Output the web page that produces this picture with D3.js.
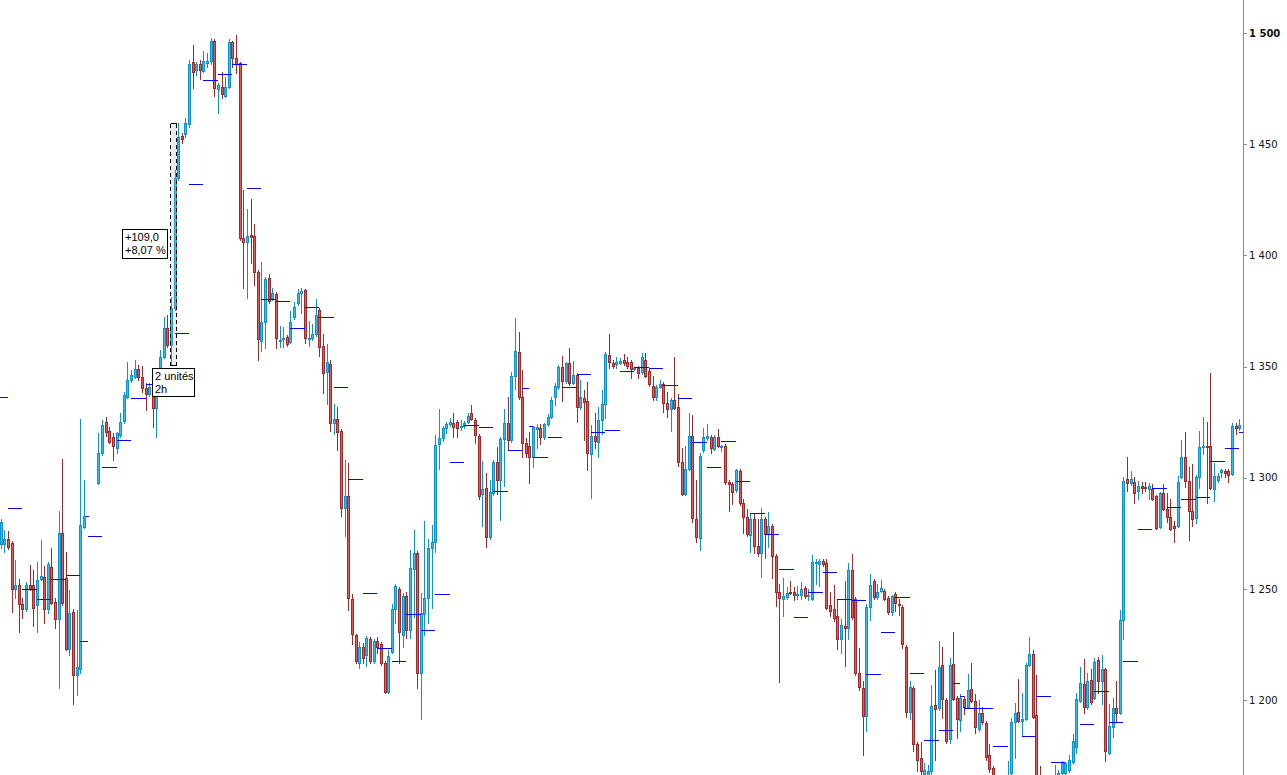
<!DOCTYPE html>
<html><head><meta charset="utf-8">
<script src="https://cdn.jsdelivr.net/npm/d3@7"></script>
<style>html,body{margin:0;padding:0;background:#fff;overflow:hidden}svg{display:block}</style>
</head><body>
<svg id="c" width="1287" height="775"></svg>
<script>
// ---- Hourly candles (price), null = no bar ----
const open = [
1270.1,1270.1,1272.3,1270.5,1249.8,1251.6,1243.1,1240.8,1251.6,1251.6,
1242.6,1254.3,1255.2,1240.8,1259.7,1244.0,1236.3,1275.0,1254.8,1222.8,
1239.5,1211.1,1213.8,1277.7,null,null,null,1297.5,1311.0,1325.0,
1320.9,1318.2,1313.3,1319.1,1325.4,1336.2,1343.9,1345.2,1348.8,1345.2,
1340.3,1337.6,1338.5,1331.3,1341.6,1354.2,1367.3,1359.6,1376.3,1434.8,
1453.7,1454.6,1459.1,1487.0,1483.4,1486.1,1482.9,1486.5,1487.4,1496.4,
1474.8,1475.7,1471.7,1475.7,1496.0,1488.8,1486.5,1407.8,1406.0,1409.1,
1408.7,1392.5,1361.4,1370.0,1389.8,1380.8,1382.6,1361.4,1362.3,1363.2,
1361.0,1372.2,1378.5,1383.0,1384.4,1362.3,1362.8,1364.6,1375.4,1359.2,
1347.5,1351.1,1324.5,1326.3,1320.9,1286.3,1291.7,1245.3,1229.1,1216.5,
1223.7,1220.1,1227.3,1217.4,1226.4,1225.1,1216.5,1203.5,1221.5,1240.8,
1249.8,1229.1,1246.7,1231.4,1258.8,1266.0,1212.0,1238.6,1245.8,1268.3,
1271.0,1315.1,1317.8,1322.3,1324.1,1324.5,1325.0,1322.7,1323.2,1325.0,
1329.0,1325.9,1318.7,1292.6,1295.3,1273.2,1293.0,1307.0,1298.9,1317.3,
1324.5,1316.9,1345.7,1356.5,1336.2,1315.5,1314.2,1309.2,1321.8,1322.3,
1318.2,1324.1,1327.2,1336.2,1340.7,1349.7,1343.4,1351.5,1342.5,1346.1,
1331.7,1335.8,1334.4,1310.6,1318.7,1316.0,1325.9,1333.1,1355.1,1351.5,
1351.1,1351.5,1352.9,1352.0,1352.0,1348.8,1349.3,1347.5,1352.9,1347.9,
1341.2,1336.2,1340.7,1342.1,1333.5,1330.8,1334.9,1331.7,1307.0,1292.6,
1303.8,1318.7,1281.3,1272.8,1312.4,1317.8,1318.2,1312.8,1318.2,1313.7,
1314.2,1298.0,1297.1,1294.4,1302.9,1288.5,1282.2,1274.1,1281.3,1269.2,
1266.0,1281.3,1274.6,1278.2,1264.7,1248.5,1245.3,1246.2,1248.5,1248.5,
1247.1,1247.1,1250.3,1246.7,1245.3,1261.5,1261.1,1262.4,1261.5,1242.6,
1240.8,1237.7,1227.3,1233.2,1232.3,1258.4,1245.3,1212.0,1205.3,1192.7,
1241.7,1253.4,1246.2,1248.9,1248.9,1245.8,1239.5,1247.6,1243.1,1241.7,
1223.7,1194.5,1205.3,1180.1,1173.8,1165.7,1165.7,1167.9,1197.6,1196.3,
1215.6,1199.9,1182.3,1216.1,1200.8,1190.9,1200.3,1196.7,1204.8,1199.4,
1186.8,1194.0,1189.5,1175.1,1169.3,null,null,null,1158.0,1167.0,
1190.0,1194.5,1190.4,1191.3,1215.6,1220.6,1193.1,1159.4,null,null,
null,1159.4,1166.1,1167.0,1167.0,1168.4,1172.0,1178.7,1199.4,1207.1,
1196.7,1208.9,1200.8,1217.9,1208.4,1213.8,1176.0,1187.7,1196.3,1194.0,
1235.9,1299.3,1297.5,1298.0,1293.9,1296.2,1295.7,1294.8,1294.8,1291.7,
1277.7,1293.0,1285.8,1282.2,1278.2,1278.2,1300.2,1309.2,1298.4,1284.9,
1281.8,1300.2,1313.7,1314.2,1314.2,1294.8,1298.9,1302.5,1302.9,1302.9,
1301.6,1323.2,1322.3];
const high = [
1281.3,1276.4,1275.9,1271.4,1262.9,1254.3,1245.8,1253.0,1260.6,1258.4,
1262.0,1271.9,1260.2,1262.0,1268.3,1245.8,1284.9,1308.3,1266.5,1249.4,
1240.8,1240.4,1326.3,1298.9,null,null,null,1320.0,1325.9,1327.2,
1322.7,1320.0,1320.5,1329.0,1338.5,1352.0,1348.4,1352.9,1350.6,1350.2,
1342.5,1342.5,1341.6,1341.6,1357.4,1372.2,1373.1,1381.2,1438.4,1459.5,
1455.0,1461.8,1487.9,1494.6,1487.0,1487.9,1491.9,1491.0,1497.8,1497.3,
1477.5,1482.5,1480.2,1497.3,1496.4,1499.1,1487.0,1429.4,1420.8,1425.3,
1414.1,1393.4,1397.0,1390.2,1391.6,1385.3,1383.5,1368.2,1367.7,1364.1,
1374.9,1379.0,1384.8,1385.3,1384.8,1370.4,1369.1,1380.3,1376.3,1364.6,
1360.1,1352.9,1333.1,1331.7,1321.8,1307.9,1306.5,1247.6,1229.6,1226.0,
1225.5,1228.7,1228.2,1227.3,1228.2,1226.0,1217.4,1222.4,1243.1,1252.1,
1250.7,1248.0,1248.5,1267.4,1276.4,1266.9,1248.0,1280.4,1272.3,1278.6,
1319.1,1330.8,1323.2,1325.0,1326.8,1329.0,1325.9,1325.9,1325.4,1329.0,
1332.6,1326.8,1319.6,1307.4,1302.0,1298.9,1307.9,1313.7,1318.2,1330.8,
1336.2,1347.5,1371.8,1365.5,1348.4,1317.8,1320.5,1323.2,1324.1,1324.1,
1324.5,1328.6,1336.2,1342.5,1350.6,1354.7,1352.0,1358.3,1352.4,1347.0,
1343.9,1339.4,1343.0,1323.6,1329.0,1331.7,1339.4,1356.5,1364.6,1352.9,
1354.2,1353.8,1355.6,1354.2,1352.9,1349.7,1350.2,1356.0,1356.0,1348.8,
1345.7,1341.6,1343.9,1343.0,1338.5,1335.8,1354.2,1337.6,1313.3,1314.2,
1329.0,1328.1,1298.9,1311.0,1322.3,1324.1,1319.1,1319.1,1321.8,1314.6,
1315.1,1298.9,1298.0,1303.8,1303.8,1290.3,1285.8,1284.0,1284.0,1281.3,
1286.3,1282.2,1284.5,1279.1,1265.6,1252.1,1254.8,1250.7,1253.4,1250.7,
1251.2,1253.0,1251.2,1249.8,1265.1,1263.3,1263.3,1263.3,1263.3,1248.5,
1251.6,1244.9,1236.3,1253.4,1261.5,1265.6,1246.2,1223.3,1208.4,1243.1,
1256.6,1254.3,1252.1,1253.9,1249.8,1246.7,1247.1,1248.5,1245.3,1242.6,
1224.6,1208.4,1206.2,1181.0,1181.0,1171.5,1170.6,1206.6,1213.4,1226.4,
1223.7,1200.8,1218.8,1230.5,1201.7,1202.6,1201.7,1211.6,1216.5,1202.6,
1199.9,1196.7,1190.4,1180.1,1170.2,null,null,null,1172.4,1191.8,
1198.5,1209.3,1203.0,1216.5,1228.2,1222.4,1211.1,1170.2,null,null,
null,1170.6,1168.4,1172.4,1172.0,1175.1,1184.6,1203.0,1214.7,1218.3,
1212.0,1213.8,1218.8,1219.2,1220.1,1214.3,1198.1,1200.8,1208.4,1240.4,
1300.2,1309.2,1302.9,1300.2,1298.4,1298.0,1298.0,1297.5,1297.1,1292.1,
1293.5,1297.1,1293.0,1290.3,1280.4,1300.7,1316.9,1320.5,1304.7,1306.1,
1301.1,1320.9,1327.2,1325.0,1347.0,1306.5,1302.0,1303.8,1303.8,1303.8,
1324.5,1324.5,1326.3];
const low = [
1268.3,1266.5,1267.8,1239.5,1245.8,1230.5,1236.8,1239.9,1249.4,1233.2,
1230.5,1253.9,1234.5,1239.0,1243.1,1232.3,1205.3,1242.6,1222.4,1220.1,
1198.1,1202.1,1212.0,1277.3,null,null,null,1297.1,1310.1,1318.7,
1315.5,1307.9,1311.0,1318.2,1324.5,1335.8,1343.0,1344.8,1343.9,1338.5,
1330.4,1336.7,1322.7,1318.2,1340.3,1353.8,1358.7,1350.6,1375.4,1433.9,
1450.5,1453.2,1457.7,1475.3,1481.1,1479.3,1482.5,1484.7,1486.1,1471.7,
1464.0,1470.8,1471.2,1475.3,1484.7,1482.0,1406.9,1385.3,1380.8,1396.5,
1386.6,1352.9,1356.9,1358.3,1378.5,1379.9,1358.3,1358.7,1358.7,1359.2,
1360.5,1371.3,1377.6,1374.0,1360.5,1359.2,1361.9,1363.7,1354.7,1338.0,
1333.1,1320.9,1319.6,1312.4,1282.7,1273.7,1240.4,1225.1,1216.5,1214.3,
1216.5,1215.2,1216.5,1216.5,1221.0,1215.6,1203.0,1203.0,1221.0,1234.5,
1216.5,1223.7,1227.8,1227.8,1237.2,1205.3,1191.3,1229.1,1234.5,1241.3,
1266.5,1303.8,1316.4,1320.0,1323.2,1318.2,1318.2,1321.4,1322.3,1324.5,
1325.9,1315.5,1290.3,1278.2,1268.7,1272.3,1292.1,1292.6,1280.9,1296.2,
1312.4,1316.0,1339.8,1335.3,1309.2,1309.2,1297.5,1304.7,1313.3,1315.1,
1317.3,1323.2,1326.8,1332.6,1339.8,1334.4,1342.5,1341.6,1342.1,1325.0,
1330.8,1316.9,1303.4,1290.8,1313.3,1309.2,1319.6,1326.8,1349.3,1349.3,
1349.3,1351.1,1350.6,1349.3,1344.8,1348.4,1344.8,1346.6,1345.2,1341.2,
1334.9,1334.9,1340.3,1329.5,1327.2,1320.9,1330.8,1305.2,1292.1,1292.1,
1303.4,1280.0,1271.0,1267.4,1311.5,1316.9,1311.0,1312.4,1313.7,1311.9,
1297.1,1284.9,1288.1,1293.5,1287.6,1275.0,1273.7,1266.5,1266.0,1264.7,
1255.2,1263.8,1268.7,1254.8,1242.2,1208.0,1237.7,1245.3,1247.6,1244.9,
1245.3,1245.3,1245.8,1244.9,1244.9,1252.1,1251.2,1260.2,1240.8,1237.7,
1235.4,1222.8,1221.0,1215.2,1227.3,1236.3,1211.1,1204.4,1175.1,1185.9,
1235.9,1245.3,1245.3,1248.5,1244.9,1238.6,1238.1,1239.9,1238.1,1223.3,
1192.2,1191.3,1176.9,1167.9,1159.4,1163.9,1163.0,1164.8,1172.9,1195.4,
1191.8,1180.5,1180.5,1199.9,1182.8,1185.9,1193.6,1196.3,1199.0,1185.0,
1185.9,1189.1,1172.9,1167.5,1159.4,null,null,null,1155.0,1164.8,
1173.8,1190.0,1183.7,1190.9,1215.2,1191.8,1154.9,1150.4,null,null,
null,1157.1,1165.2,1165.7,1166.1,1167.5,1171.5,1176.0,1199.0,1194.0,
1195.8,1198.1,1200.3,1203.0,1198.1,1172.4,1175.6,1183.2,1190.4,1193.6,
1227.3,1293.9,1296.6,1288.5,1290.3,1293.0,1293.9,1290.3,1289.9,1276.8,
1277.3,1285.4,1280.0,1276.4,1271.0,1277.7,1299.8,1295.7,1271.9,1278.2,
1279.5,1295.3,1310.6,1288.5,1294.8,1289.4,1298.0,1300.2,1300.2,1298.0,
1301.1,1319.6,1321.4];
const close = [
1280.0,1272.3,1268.7,1249.8,1251.6,1243.1,1240.8,1251.6,1249.8,1241.3,
1253.9,1255.7,1240.8,1261.1,1243.5,1236.3,1275.0,1243.5,1222.8,1239.0,
1211.1,1214.7,1278.6,1282.7,null,null,null,1311.0,1323.6,1320.5,
1316.0,1314.2,1320.0,1325.0,1337.1,1343.9,1346.1,1348.8,1345.2,1340.3,
1337.6,1340.7,1331.3,1338.0,1354.2,1367.3,1359.6,1376.3,1434.8,1453.2,
1452.3,1459.5,1486.1,1482.5,1486.1,1483.4,1487.4,1487.4,1496.4,1475.3,
1476.6,1472.6,1475.7,1496.0,1488.8,1486.1,1407.8,1406.0,1408.7,1408.2,
1392.5,1362.3,1370.0,1389.3,1379.4,1383.0,1362.8,1361.9,1362.8,1360.1,
1370.0,1376.7,1383.0,1383.9,1362.8,1362.8,1364.6,1373.1,1358.7,1347.0,
1352.0,1324.5,1326.3,1320.5,1286.3,1291.7,1245.8,1229.6,1217.4,1223.7,
1218.8,1227.8,1217.4,1226.4,1223.7,1216.5,1203.5,1219.7,1240.8,1251.2,
1230.5,1246.7,1231.4,1259.3,1266.0,1212.0,1239.0,1245.8,1268.3,1271.0,
1314.6,1317.8,1322.3,1324.1,1325.0,1322.7,1322.3,1323.2,1324.5,1327.7,
1326.3,1319.1,1291.7,1294.8,1273.2,1293.5,1307.0,1298.9,1317.3,1324.5,
1316.9,1345.7,1356.9,1336.2,1315.5,1311.0,1309.2,1322.7,1322.7,1318.2,
1324.1,1327.2,1334.9,1341.2,1349.7,1343.4,1351.5,1342.5,1346.1,1331.7,
1336.2,1334.0,1311.0,1318.7,1316.4,1325.9,1333.1,1355.6,1352.0,1350.2,
1352.0,1352.4,1351.5,1350.2,1348.8,1349.3,1347.0,1354.2,1345.7,1342.1,
1336.2,1340.7,1342.1,1333.5,1330.8,1334.9,1331.3,1307.0,1292.6,1303.8,
1318.7,1281.8,1273.2,1309.7,1318.2,1318.7,1313.3,1318.2,1314.2,1314.2,
1298.0,1297.1,1293.5,1303.4,1288.5,1282.2,1274.6,1281.3,1269.2,1266.0,
1281.3,1274.6,1278.2,1264.7,1248.5,1245.8,1246.7,1248.0,1248.0,1247.1,
1247.6,1249.8,1246.7,1247.1,1262.0,1262.0,1262.4,1261.1,1241.3,1239.9,
1236.8,1227.3,1233.6,1232.3,1258.4,1237.2,1212.0,1205.7,1192.7,1241.7,
1251.6,1246.2,1248.5,1250.3,1245.3,1239.5,1246.7,1243.5,1242.6,1225.1,
1194.5,1205.7,1180.1,1172.9,1167.9,1168.4,1167.9,1197.2,1195.8,1214.7,
1200.3,1181.4,1215.6,1200.3,1191.3,1200.8,1196.7,1204.4,1199.4,1187.7,
1194.0,1190.0,1174.2,1168.8,1163.9,null,null,null,1164.0,1190.0,
1194.0,1190.4,1191.3,1215.6,1220.6,1192.2,1159.4,1154.9,null,null,
null,1163.9,1167.0,1171.5,1171.5,1172.9,1181.4,1200.3,1207.5,1196.7,
1208.4,1199.0,1217.0,1208.4,1213.8,1176.9,1188.2,1196.3,1194.0,1235.9,
1298.4,1297.5,1299.3,1293.0,1296.2,1295.3,1295.3,1296.2,1290.3,1277.3,
1293.0,1285.8,1282.2,1276.8,1277.3,1298.0,1309.2,1298.4,1284.9,1281.3,
1300.2,1313.7,1314.2,1313.7,1295.3,1300.7,1300.7,1303.4,1302.0,1301.1,
1323.2,1322.3,1323.6];

// ---- 4-bar reference levels (blue steps) ----
const segFrom = [-2,2,6,10,14,18,22,23.6,24,28,32,36,40,48,52,56,60,64,68,72,76,80,84,88,92,96,100,104,108,112,116,120,124,128,132,136,140,144,146,147,151,155,159,163,167,171,175,179,183,187,191,195,199,203,207,211,215,219,223,227,231,235,239,243,247,251,255,259,263,265,266,274,282,286,290,298,302,306,310,314,318,322,326,330,334,338,342];
const segTo = [2,6,10,14,18,22,24,24.4,28,32,36,40,44,52,56,60,64,68,72,76,80,84,88,92,96,100,104,108,112,116,120,124,128,132,136,140,144,146,147,151,155,159,163,167,171,175,179,183,187,191,195,199,203,207,211,215,219,223,227,231,235,239,243,247,251,255,259,263,265,266,274,278,286,290,294,302,306,310,314,318,322,326,330,334,338,342,343.2];
const segLevel = [1336.2,1286.3,1249.8,1245.3,1254.3,1256.1,1226.4,1282.7,1273.7,1304.7,1316.9,1335.8,1342.1,1365.0,1432.1,1478.9,1481.6,1486.1,1430.3,1380.3,1379.4,1367.3,1376.7,1372.2,1340.7,1299.3,1248.0,1223.3,1217.4,1238.6,1231.4,1247.6,1307.0,1323.6,1322.7,1293.9,1312.4,1340.3,1323.2,1309.2,1318.2,1340.7,1346.6,1320.5,1321.4,1347.9,1349.7,1349.3,1341.6,1335.8,1316.0,1304.7,1316.4,1298.4,1284.0,1274.6,1258.8,1237.2,1248.5,1257.5,1245.3,1244.9,1211.6,1230.5,1246.2,1212.0,1181.9,1186.4,1207.5,1201.7,1196.3,1179.2,1183.7,1201.7,1172.0,1189.1,1203.9,1190.0,1217.4,1276.8,1295.3,1286.7,1290.3,1291.2,1307.4,1313.3,1320.5];

// ---- axis ticks & annotation ----
const priceTicks = [1200,1250,1300,1350,1400,1450,1500];
const boldTick = 1500;
const measureBars = [47, 49];
const measurePrices = [1350.6, 1459.6];
const measureText = ["+109,0", "+8,07 %"];
const barsText = ["2 unités", "2h"];

const svg = d3.select('#c');
const W = 1287, H = 775, axisX = 1243;
const x = d3.scaleLinear().domain([0, open.length - 1]).range([0.67, 1239.3]);
const y = d3.scaleLinear().domain([1200, 1500]).range([700, 33]);

const UP = {stroke:'#0c92cc', fill:'#36bdec'};
const DN = {stroke:'#a3282a', fill:'#e05a5a'};

const bars = d3.range(open.length).filter(i => open[i] != null)
  .map(i => ({i, o:open[i], h:high[i], l:low[i], c:close[i], up: close[i] >= open[i]}));

const gC = svg.append('g');
gC.selectAll('line').data(bars).join('line')
  .attr('x1', d => Math.round(x(d.i)) + 0.5).attr('x2', d => Math.round(x(d.i)) + 0.5)
  .attr('y1', d => Math.round(y(d.h))).attr('y2', d => Math.round(y(d.l)) + 1)
  .attr('stroke', d => d.up ? UP.stroke : DN.stroke).attr('stroke-width', 1)
  .attr('shape-rendering', 'crispEdges');
gC.selectAll('rect').data(bars).join('rect')
  .attr('x', d => Math.round(x(d.i)) - 0.5)
  .attr('y', d => Math.round(y(Math.max(d.o, d.c))) + 0.5)
  .attr('width', 2)
  .attr('height', d => Math.max(1, Math.round(y(Math.min(d.o, d.c))) - Math.round(y(Math.max(d.o, d.c)))))
  .attr('fill', d => d.up ? UP.fill : DN.fill)
  .attr('stroke', d => d.up ? UP.stroke : DN.stroke).attr('stroke-width', 1)
  .attr('shape-rendering', 'crispEdges');

// blue step levels
svg.append('g').selectAll('line').data(segLevel.map((v, k) => ({v, a:segFrom[k], b:segTo[k]})))
  .join('line')
  .attr('x1', d => Math.round(x(d.a))).attr('x2', d => Math.round(x(d.b)))
  .attr('y1', d => Math.round(y(d.v)) + 0.5).attr('y2', d => Math.round(y(d.v)) + 0.5)
  .attr('stroke', '#0000ff').attr('stroke-width', 1).attr('shape-rendering', 'crispEdges');

// measuring tool
const mx0 = Math.round(x(measureBars[0])) - 0.5, mx1 = Math.round(x(measureBars[1])) - 1.5;
const my0 = Math.round(y(measurePrices[1])) + 0.5, my1 = Math.round(y(measurePrices[0])) + 0.5;
const gM = svg.append('g').attr('shape-rendering', 'crispEdges');
gM.append('rect').attr('x', mx0).attr('y', my0).attr('width', mx1 - mx0).attr('height', my1 - my0)
  .attr('fill', 'rgba(170,170,170,0.22)');
[[mx0, my0, mx0, my1, '4,3'], [mx1, my0, mx1, my1, '4,3'], [mx0, my0, mx1, my0, null], [mx0, my1, mx1, my1, null]]
  .forEach(([a, b, c, d, dash]) => {
    const l = gM.append('line').attr('x1', a).attr('y1', b).attr('x2', c).attr('y2', d)
      .attr('stroke', '#000').attr('stroke-width', 1);
    if (dash) l.attr('stroke-dasharray', dash);
  });

function labelBox(left, top, w, h, lines) {
  const g = svg.append('g');
  g.append('rect').attr('x', left + 0.5).attr('y', top + 0.5).attr('width', w).attr('height', h)
    .attr('fill', '#fff').attr('stroke', '#000').attr('stroke-width', 1).attr('shape-rendering', 'crispEdges');
  lines.forEach((t, k) => g.append('text').attr('x', left + 3).attr('y', top + 12 + k * 12.7)
    .attr('font-family', 'Liberation Sans, Arial, sans-serif').attr('font-size', 11).attr('fill', '#000').text(t));
}
const midY = (my0 + my1) / 2;
labelBox(Math.round(mx0) - 49, Math.round(midY - 16), 45, 29, measureText);
labelBox(Math.round((mx0 + mx1) / 2) - 22, Math.round(my1) + 2, 42, 28, barsText);

// price axis
const fmt = d3.formatLocale({decimal: ',', thousands: ' ', grouping: [3], currency: ['', '']}).format(',d');
svg.append('line').attr('x1', axisX + 0.5).attr('x2', axisX + 0.5).attr('y1', 0).attr('y2', H)
  .attr('stroke', '#7d8f9c').attr('stroke-width', 1).attr('shape-rendering', 'crispEdges');
const gA = svg.append('g').attr('transform', `translate(${axisX},0)`)
  .call(d3.axisRight(y).tickValues(priceTicks).tickSize(4).tickPadding(2).tickFormat(fmt));
gA.select('.domain').remove();
gA.selectAll('.tick line').attr('stroke', '#7d8f9c').attr('shape-rendering', 'crispEdges');
gA.selectAll('.tick text').attr('font-family', 'DejaVu Sans, Verdana, sans-serif').attr('font-size', 10)
  .attr('fill', '#111').attr('font-weight', d => d === boldTick ? 'bold' : 'normal');
</script>
</body></html>
